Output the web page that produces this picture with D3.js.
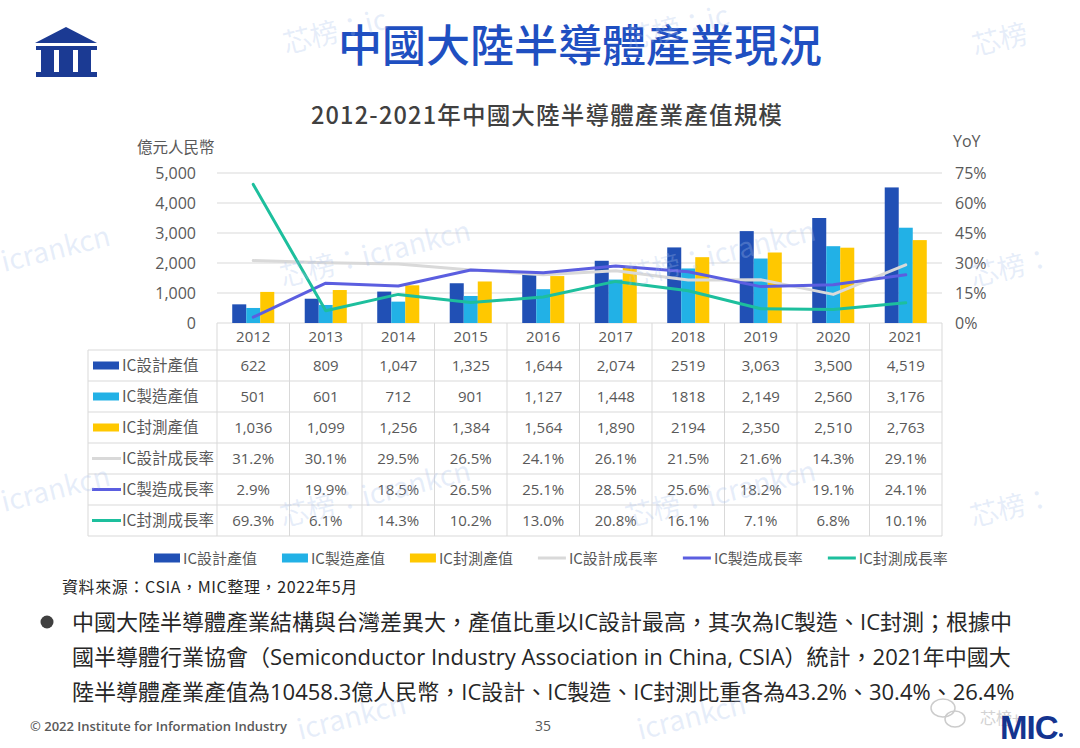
<!DOCTYPE html>
<html lang="zh-Hant-TW">
<head>
<meta charset="utf-8">
<script src="https://cdn.jsdelivr.net/npm/d3@7"></script>
<style>
  body { margin: 0; background: #fff; }
  svg { display: block; }
</style>
</head>
<body>
<svg id="viz" width="1080" height="748" lang="zh-Hant-TW"></svg>
<script>
// ---- data ----
const years = ["2012", "2013", "2014", "2015", "2016", "2017", "2018", "2019", "2020", "2021"];
const designValue = [622, 809, 1047, 1325, 1644, 2074, 2519, 3063, 3500, 4519];
const fabValue = [501, 601, 712, 901, 1127, 1448, 1818, 2149, 2560, 3176];
const testValue = [1036, 1099, 1256, 1384, 1564, 1890, 2194, 2350, 2510, 2763];
const designGrowth = [31.2, 30.1, 29.5, 26.5, 24.1, 26.1, 21.5, 21.6, 14.3, 29.1];
const fabGrowth = [2.9, 19.9, 18.5, 26.5, 25.1, 28.5, 25.6, 18.2, 19.1, 24.1];
const testGrowth = [69.3, 6.1, 14.3, 10.2, 13.0, 20.8, 16.1, 7.1, 6.8, 10.1];
const leftTicks = [0, 1000, 2000, 3000, 4000, 5000];
const rightTicks = [0, 15, 30, 45, 60, 75];

const barSeries = [
    {name: "IC設計產值", values: designValue, color: "#2150b5"},
    {name: "IC製造產值", values: fabValue, color: "#22b1e6"},
    {name: "IC封測產值", values: testValue, color: "#ffc800"}
];
const lineSeries = [
    {name: "IC設計成長率", values: designGrowth, color: "#d9d9d9"},
    {name: "IC製造成長率", values: fabGrowth, color: "#5b5ee0"},
    {name: "IC封測成長率", values: testGrowth, color: "#1dbf9d"}
];

const bulletLines = [
    "中國大陸半導體產業結構與台灣差異大，產值比重以IC設計最高，其次為IC製造、IC封測；根據中",
    "國半導體行業協會（Semiconductor Industry Association in China, CSIA）統計，2021年中國大",
    "陸半導體產業產值為10458.3億人民幣，IC設計、IC製造、IC封測比重各為43.2%、30.4%、26.4%"
];

const FONT = '"Open Sans", "Noto Sans CJK TC", sans-serif';
const CJK = '"Noto Sans CJK TC", "Open Sans", sans-serif';
const GREY = "#595959";
const GRID = "#d9d9d9";

const svg = d3.select("#viz");

// ---- scales ----
const plotLeft = 217, plotRight = 942, plotTop = 173, plotBottom = 323;
const xCell = d3.scaleBand().domain(years).range([plotLeft, plotRight]);
const xGroup = d3.scaleBand().domain(years).range([plotLeft, plotRight])
    .paddingInner(0.42).paddingOuter(0.21);
const xSeries = d3.scaleBand().domain(barSeries.map(s => s.name)).range([0, xGroup.bandwidth()]);
const yLeft = d3.scaleLinear().domain([0, 5000]).range([plotBottom, plotTop]);
const yRight = d3.scaleLinear().domain([0, 75]).range([plotBottom, plotTop]);
const xMid = (yr) => xCell(yr) + xCell.bandwidth() / 2;

// ---- header: logo + titles ----
const logo = svg.append("g").attr("fill", "#1b3a93");
logo.append("path").attr("d", "M35,43 L66,27 L97,43 Z");
logo.append("rect").attr("x", 36).attr("y", 46).attr("width", 61).attr("height", 4);
[[41, 13], [59, 14], [78, 13]].forEach(([cx, w]) => {
    logo.append("rect").attr("x", cx).attr("y", 49).attr("width", w).attr("height", 24);
});
logo.append("rect").attr("x", 36).attr("y", 72).attr("width", 61).attr("height", 5);

svg.append("text")
    .attr("x", 580).attr("y", 62)
    .attr("text-anchor", "middle")
    .style("font-family", CJK).style("font-size", "44px").style("font-weight", 500)
    .attr("fill", "#1f4fc1")
    .text("中國大陸半導體產業現況");

svg.append("text")
    .attr("x", 547).attr("y", 124)
    .attr("text-anchor", "middle")
    .style("font-family", CJK).style("font-size", "23.5px").style("font-weight", 500)
    .style("letter-spacing", "1.2px")
    .attr("fill", "#404040")
    .text("2012-2021年中國大陸半導體產業產值規模");

// ---- axes ----
svg.append("g")
    .selectAll("line")
    .data(leftTicks)
    .join("line")
    .attr("x1", plotLeft).attr("x2", plotRight)
    .attr("y1", d => yLeft(d)).attr("y2", d => yLeft(d))
    .attr("stroke", GRID).attr("stroke-width", 1);

svg.append("g")
    .selectAll("text")
    .data(leftTicks)
    .join("text")
    .attr("x", 196).attr("y", d => yLeft(d) + 6)
    .attr("text-anchor", "end")
    .style("font-family", FONT).style("font-size", "16px")
    .attr("fill", GREY)
    .text(d => d3.format(",")(d));

svg.append("g")
    .selectAll("text")
    .data(rightTicks)
    .join("text")
    .attr("x", 955).attr("y", d => yRight(d) + 6)
    .style("font-family", FONT).style("font-size", "16px")
    .attr("fill", GREY)
    .text(d => d + "%");

svg.append("text").attr("x", 137).attr("y", 153)
    .style("font-family", CJK).style("font-size", "15.5px")
    .attr("fill", GREY).text("億元人民幣");
svg.append("text").attr("x", 953).attr("y", 147)
    .style("font-family", FONT).style("font-size", "16px")
    .attr("fill", GREY).text("YoY");

// ---- bars ----
svg.append("g")
    .selectAll("g")
    .data(barSeries)
    .join("g")
    .attr("fill", s => s.color)
    .selectAll("rect")
    .data(s => s.values.map((v, i) => ({name: s.name, year: years[i], v})))
    .join("rect")
    .attr("x", d => xGroup(d.year) + xSeries(d.name))
    .attr("width", xSeries.bandwidth())
    .attr("y", d => yLeft(d.v))
    .attr("height", d => plotBottom - yLeft(d.v));

// ---- growth lines ----
const line = d3.line()
    .x((d, i) => xMid(years[i]))
    .y(d => yRight(d));
svg.append("g")
    .selectAll("path")
    .data(lineSeries)
    .join("path")
    .attr("d", s => line(s.values))
    .attr("fill", "none")
    .attr("stroke", s => s.color)
    .attr("stroke-width", 3)
    .attr("stroke-linejoin", "round")
    .attr("stroke-linecap", "round");

// ---- data table ----
const tableLeft = 88, headBottom = 350, rowH = 31;
const rows = barSeries.map(s => ({...s, kind: "bar"}))
    .concat(lineSeries.map(s => ({...s, kind: "line"})));
const tableBottom = headBottom + rowH * rows.length;
// 2018 column is printed without thousands separator on the slide
const fmtValue = (v, i) => i === 6 ? String(v) : d3.format(",")(v);
const fmtRate = (v) => d3.format(".1f")(v) + "%";

const table = svg.append("g").attr("stroke", GRID).attr("stroke-width", 1);
table.selectAll("line.h")
    .data(d3.range(rows.length + 1))
    .join("line")
    .attr("x1", tableLeft).attr("x2", plotRight)
    .attr("y1", i => headBottom + i * rowH).attr("y2", i => headBottom + i * rowH);
table.selectAll("line.v")
    .data(years.concat(["end"]))
    .join("line")
    .attr("x1", d => d === "end" ? plotRight : xCell(d))
    .attr("x2", d => d === "end" ? plotRight : xCell(d))
    .attr("y1", plotBottom).attr("y2", tableBottom);
table.append("line")
    .attr("x1", tableLeft).attr("x2", tableLeft)
    .attr("y1", headBottom).attr("y2", tableBottom);

svg.append("g")
    .selectAll("text")
    .data(years)
    .join("text")
    .attr("x", d => xMid(d)).attr("y", 342)
    .attr("text-anchor", "middle")
    .style("font-family", FONT).style("font-size", "15px")
    .attr("fill", GREY)
    .text(d => d);

const rowG = svg.append("g")
    .selectAll("g")
    .data(rows)
    .join("g")
    .attr("transform", (d, i) => `translate(0,${headBottom + i * rowH + rowH / 2})`);

rowG.filter(d => d.kind === "bar").append("rect")
    .attr("x", 93).attr("y", -4).attr("width", 26).attr("height", 8)
    .attr("fill", d => d.color);
rowG.filter(d => d.kind === "line").append("line")
    .attr("x1", 92).attr("x2", 121).attr("y1", 0).attr("y2", 0)
    .attr("stroke", d => d.color).attr("stroke-width", 3);
rowG.append("text")
    .attr("x", 122).attr("y", 5.5)
    .style("font-family", CJK).style("font-size", "15.5px")
    .attr("fill", GREY)
    .text(d => d.name);
rowG.selectAll("text.val")
    .data(d => d.values.map((v, i) => ({v, i, kind: d.kind})))
    .join("text")
    .attr("class", "val")
    .attr("x", d => xMid(years[d.i])).attr("y", 5.5)
    .attr("text-anchor", "middle")
    .style("font-family", FONT).style("font-size", "15px")
    .attr("fill", GREY)
    .text(d => d.kind === "bar" ? fmtValue(d.v, d.i) : fmtRate(d.v));

// ---- legend ----
const legend = svg.append("g").attr("transform", "translate(0,558)");
let lx = 154;
rows.forEach(d => {
    if (d.kind === "bar") {
        legend.append("rect").attr("x", lx).attr("y", -4.5).attr("width", 26).attr("height", 9)
            .attr("fill", d.color);
    } else {
        legend.append("line").attr("x1", lx).attr("x2", lx + 28).attr("y1", 0).attr("y2", 0)
            .attr("stroke", d.color).attr("stroke-width", 3);
    }
    const t = legend.append("text")
        .attr("x", lx + (d.kind === "bar" ? 29 : 31)).attr("y", 5.5)
        .style("font-family", CJK).style("font-size", "15px")
        .attr("fill", GREY)
        .text(d.name);
    lx = lx + (d.kind === "bar" ? 29 : 31) + t.node().getComputedTextLength() + 25;
});

// ---- source + bullet text ----
svg.append("text").attr("x", 62).attr("y", 593)
    .style("font-family", CJK).style("font-size", "16px").style("letter-spacing", "0.6px")
    .attr("fill", "#262626")
    .text("資料來源：CSIA，MIC整理，2022年5月");

svg.append("circle").attr("cx", 47).attr("cy", 622).attr("r", 6.5).attr("fill", "#404040");
svg.append("g")
    .selectAll("text")
    .data(bulletLines)
    .join("text")
    .attr("x", 72).attr("y", (d, i) => 630 + i * 35)
    .style("font-family", FONT).style("font-size", "22px")
    .attr("fill", "#262626")
    .text(d => d);

// ---- footer ----
svg.append("text").attr("x", 30).attr("y", 731)
    .style("font-family", FONT).style("font-size", "13px").style("font-weight", 600)
    .attr("fill", GREY)
    .text("© 2022 Institute for Information Industry");
svg.append("text").attr("x", 543).attr("y", 731)
    .attr("text-anchor", "middle")
    .style("font-family", FONT).style("font-size", "14px")
    .attr("fill", GREY).text("35");

// wechat-style mark + MIC logo
const wx = svg.append("g").attr("fill", "none").attr("stroke", "#cccccc").attr("stroke-width", 1.5);
wx.append("ellipse").attr("cx", 943).attr("cy", 708).attr("rx", 12).attr("ry", 9);
wx.append("ellipse").attr("cx", 955).attr("cy", 719).attr("rx", 10).attr("ry", 8);
svg.append("text").attr("x", 980).attr("y", 724)
    .style("font-family", CJK).style("font-size", "16px")
    .attr("fill", "#d2d2d2").text("芯榜+");
svg.append("text").attr("x", 1000).attr("y", 739)
    .style("font-family", '"Liberation Sans", Arial, sans-serif')
    .style("font-size", "33px").style("font-weight", 700).style("letter-spacing", "-1px")
    .attr("fill", "#14348f").text("MIC");
svg.append("circle").attr("cx", 1061).attr("cy", 735).attr("r", 2).attr("fill", "#14348f");

// ---- faint watermarks (only the part that shows on the slide) ----
const watermarks = [
    [286, 54, "芯榜：ic"], [628, 50, "芯榜：ic"], [975, 56, "芯榜"],
    [4, 272, "icrankcn"], [283, 287, "芯榜：icrankcn"], [628, 287, "芯榜：icrankcn"], [973, 287, "芯榜："],
    [4, 512, "icrankcn"], [283, 527, "芯榜：icrankcn"], [628, 527, "芯榜：icrankcn"], [973, 527, "芯榜："],
    [300, 740, "icrankcn"], [640, 740, "icrankcn"]
];
const wm = svg.append("g").attr("pointer-events", "none");
watermarks.forEach(([x, y, s]) => {
    wm.append("text")
        .attr("transform", `translate(${x},${y}) rotate(-14)`)
        .style("font-family", CJK).style("font-size", "28px")
        .attr("fill", "#a9c0ec").attr("fill-opacity", 0.28)
        .text(s);
});
</script>
</body>
</html>
